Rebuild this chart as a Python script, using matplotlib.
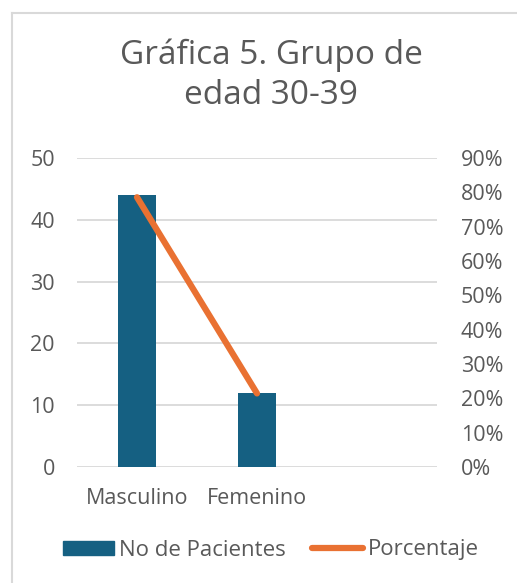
import matplotlib
matplotlib.use("Agg")
import matplotlib.pyplot as plt
from matplotlib.lines import Line2D
from matplotlib.ticker import PercentFormatter
import numpy as np

# Data
categorias = ["Masculino", "Femenino", ""]
pacientes = [44, 12]
porcentaje = [0.7857, 0.2143]

bar_color = "#156082"
line_color = "#E97132"
txt = "#595959"
grid_c = "#D9D9D9"

plt.rcParams['font.family'] = ['Open Sans', 'DejaVu Sans']

W, H = 517, 583
fig = plt.figure(figsize=(W / 100, H / 100), dpi=100)

# chart border (left and top only visible)
fig.add_artist(Line2D([12 / W, 12 / W], [0, 1 - 13 / H], color=grid_c, lw=1.5))
fig.add_artist(Line2D([12 / W, 1], [1 - 13 / H, 1 - 13 / H], color=grid_c, lw=1.5))

# plot area: x 77..437, y 158..467
ax = fig.add_axes([77 / W, 1 - 467 / H, 360 / W, 309 / H])
x = np.arange(len(categorias))
ax.bar(x[:len(pacientes)], pacientes, width=0.317, color=bar_color, zorder=2)
ax.set_xlim(-0.5, 2.5)
ax.set_ylim(0, 50)
ax.set_yticks([0, 10, 20, 30, 40, 50])
ax.set_xticks(x)
ax.set_xticklabels(categorias)
ax.grid(axis='y', color=grid_c, lw=1.3, zorder=0)
ax.tick_params(length=0, colors=txt, labelsize=15.5)
ax.tick_params(axis='y', pad=16)
ax.tick_params(axis='x', pad=15)
for s in ax.spines.values():
    s.set_visible(False)

ax2 = ax.twinx()
ax2.plot(x[:len(porcentaje)], porcentaje, color=line_color, lw=4.5,
         solid_capstyle='round', zorder=3)
ax2.set_ylim(0, 0.9)
ax2.set_yticks(np.arange(0, 0.91, 0.1))
ax2.yaxis.set_major_formatter(PercentFormatter(1.0, decimals=0))
ax2.tick_params(length=0, colors=txt, labelsize=15.5, pad=17)
for s in ax2.spines.values():
    s.set_visible(False)

fig.text(271 / W, 1 - 75 / H, "Gráfica 5. Grupo de\nedad 30-39", ha='center',
         va='center', fontsize=24, color=txt, linespacing=1.3)

handles = [plt.Rectangle((0, 0), 1, 1, color=bar_color),
           Line2D([0], [0], color=line_color, lw=4.5, solid_capstyle='round')]
fig.legend(handles, ["No de Pacientes", "Porcentaje"], loc='center',
           bbox_to_anchor=(271 / W, 1 - 550 / H), ncol=2, frameon=False,
           fontsize=16, labelcolor=txt, handlelength=2.3, handleheight=0.6,
           handletextpad=0.2, columnspacing=1.2)

fig.savefig("out.png", dpi=100, facecolor='white')
